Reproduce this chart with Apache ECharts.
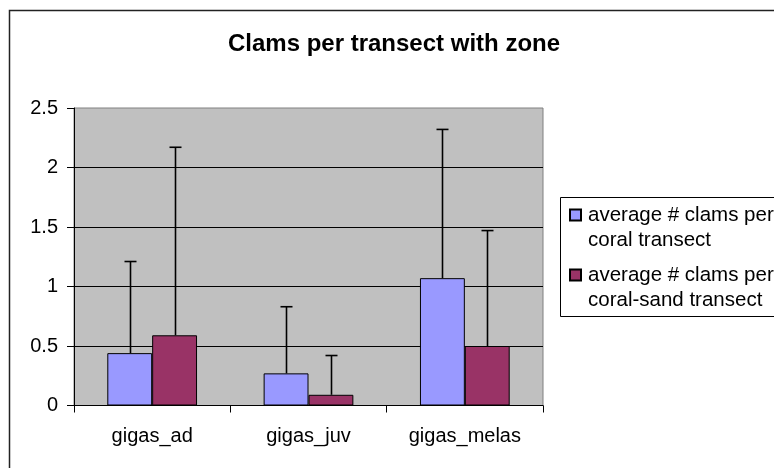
<!DOCTYPE html>
<html>
<head>
<meta charset="utf-8">
<script src="https://cdn.jsdelivr.net/npm/echarts@6/dist/echarts.min.js"></script>
<style>
html,body{margin:0;padding:0;background:#fff;}
#chart{width:774px;height:468px;}
</style>
</head>
<body>
<div id="chart"></div>
<script>
const titleText = 'Clams per transect with zone';
const categories = ['gigas_ad', 'gigas_juv', 'gigas_melas'];
const seriesNames = ['average # clams per\ncoral transect', 'average # clams per\ncoral-sand transect'];
const coralMeans = [0.44, 0.27, 1.07];
const sandMeans = [0.59, 0.09, 0.50];
const coralErr = [0.77, 0.56, 1.25];
const sandErr = [1.58, 0.33, 0.97];
const yMin = 0, yMax = 2.5, yInterval = 0.5;

const FONT = 'Arial, "Liberation Sans", sans-serif';
const BAR_FRAC = 0.287;

function errSeries(means, errs, side) {
  return {
    type: 'custom',
    z: 5,
    silent: true,
    encode: { x: 0, y: 1 },
    data: means.map((m, i) => [i, m, errs[i]]),
    renderItem: function (params, api) {
      const i = api.value(0), m = api.value(1), e = api.value(2);
      const base = api.coord([i, m]);
      const top = api.coord([i, m + e]);
      const band = api.size([1, 0])[0];
      const x = Math.round(base[0] + side * band * BAR_FRAC / 2) + 0.5;
      const st = { stroke: '#000', lineWidth: 1.6 };
      return {
        type: 'group',
        children: [
          { type: 'line', shape: { x1: x, y1: base[1], x2: x, y2: top[1] }, style: st },
          { type: 'line', shape: { x1: x - 6, y1: top[1], x2: x + 6, y2: top[1] }, style: st }
        ]
      };
    }
  };
}

const chart = echarts.init(document.getElementById('chart'));
chart.setOption({
  animation: false,
  backgroundColor: '#fff',
  textStyle: { fontFamily: FONT },
  title: {
    text: titleText,
    left: 394,
    top: 32,
    textAlign: 'center',
    padding: 0,
    textStyle: { fontFamily: FONT, fontSize: 24, fontWeight: 'bold', color: '#000' }
  },
  graphic: [
    { type: 'rect', z: -10, shape: { x: 9.5, y: 10.5, width: 900, height: 600 },
      style: { fill: 'none', stroke: '#222', lineWidth: 1.5 } },
    { type: 'rect', z: -5, shape: { x: 560.5, y: 197.5, width: 400, height: 119 },
      style: { fill: '#fff', stroke: '#000', lineWidth: 1 } }
  ],
  legend: {
    data: seriesNames,
    orient: 'vertical',
    left: 569,
    top: 177.5,
    padding: 0,
    itemGap: -15,
    itemWidth: 11,
    itemHeight: 11,
    icon: 'rect',
    formatter: function (name) { return '\n' + name; },
    textStyle: { fontFamily: FONT, fontSize: 20.5, color: '#000', lineHeight: 25, padding: [0, 0, 0, 2] }
  },
  grid: {
    left: 74, right: 231, top: 108, bottom: 62.5,
    show: true, backgroundColor: '#c0c0c0', borderColor: '#808080', borderWidth: 1
  },
  xAxis: {
    type: 'category',
    data: categories,
    axisLine: { lineStyle: { color: '#000', width: 1 } },
    axisTick: { show: true, length: 7, lineStyle: { color: '#000' } },
    axisLabel: { color: '#000', fontSize: 20, fontFamily: FONT, margin: 21 },
    splitLine: { show: false }
  },
  yAxis: {
    type: 'value',
    min: yMin, max: yMax, interval: yInterval,
    axisLine: { show: true, lineStyle: { color: '#000', width: 1 } },
    axisTick: { show: true, length: 7, lineStyle: { color: '#000' } },
    axisLabel: { color: '#000', fontSize: 20, fontFamily: FONT, margin: 16 },
    splitLine: { show: true, showMinLine: false, showMaxLine: false, lineStyle: { color: '#000', width: 1 } }
  },
  series: [
    {
      name: seriesNames[0], type: 'bar', data: coralMeans,
      barWidth: (BAR_FRAC * 100) + '%', barGap: '0%',
      itemStyle: { color: '#9999ff', borderColor: '#000', borderWidth: 1 }
    },
    {
      name: seriesNames[1], type: 'bar', data: sandMeans,
      barWidth: (BAR_FRAC * 100) + '%', barGap: '0%',
      itemStyle: { color: '#993366', borderColor: '#000', borderWidth: 1 }
    },
    errSeries(coralMeans, coralErr, -1),
    errSeries(sandMeans, sandErr, 1)
  ]
});
</script>
</body>
</html>
